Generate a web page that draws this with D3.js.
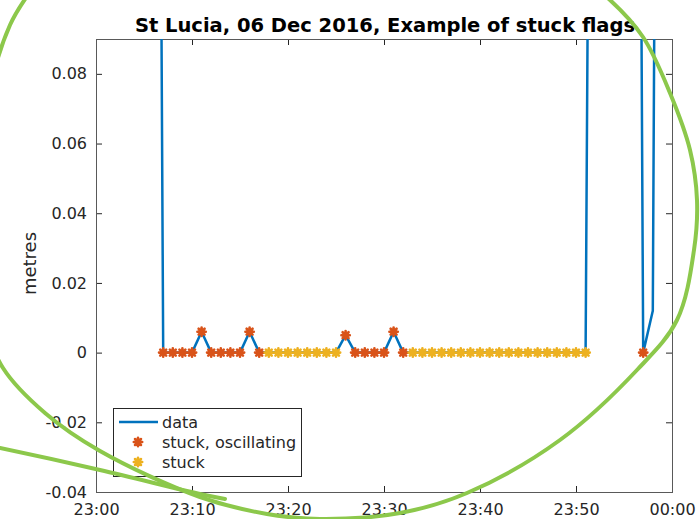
<!DOCTYPE html>
<html>
<head>
<meta charset="utf-8">
<script src="https://cdn.jsdelivr.net/npm/d3@7"></script>
<style>
    body { margin: 0; background: #fff; }
    #chart { width: 700px; height: 519px; }
    text { font-family: "DejaVu Sans", sans-serif; fill: #262626; }
</style>
</head>
<body>
<div id="chart"></div>
<script>

// one reading per minute, 23:00 -> 00:00
const times = ["23:00","23:01","23:02","23:03","23:04","23:05","23:06","23:07","23:08","23:09",
    "23:10","23:11","23:12","23:13","23:14","23:15","23:16","23:17","23:18","23:19",
    "23:20","23:21","23:22","23:23","23:24","23:25","23:26","23:27","23:28","23:29",
    "23:30","23:31","23:32","23:33","23:34","23:35","23:36","23:37","23:38","23:39",
    "23:40","23:41","23:42","23:43","23:44","23:45","23:46","23:47","23:48","23:49",
    "23:50","23:51","23:52","23:53","23:54","23:55","23:56","23:57","23:58","23:59","00:00"];

// metres
const levels = [0.62, 0.60, 0.58, 0.56, 0.55, 0.53, 0.52, 0, 0, 0,
    0, 0.006, 0, 0, 0, 0, 0.006, 0, 0, 0,
    0, 0, 0, 0, 0, 0, 0.005, 0, 0, 0,
    0, 0.006, 0, 0, 0, 0, 0, 0, 0, 0,
    0, 0, 0, 0, 0, 0, 0, 0, 0, 0,
    0, 0, 0.45, 0.47, 0.49, 0.50, 0.52, 0, 0.012, 0.55, 0.56];

// "o" = stuck, oscillating   "s" = stuck
const flags = ["","","","","","","","o","o","o",
    "o","o","o","o","o","o","o","o","s","s",
    "s","s","s","s","s","s","o","o","o","o",
    "o","o","o","s","s","s","s","s","s","s",
    "s","s","s","s","s","s","s","s","s","s",
    "s","s","","","","","","o","","",""];

const yTicks = [-0.04, -0.02, 0, 0.02, 0.04, 0.06, 0.08];
const xTickLabels = ["23:00","23:10","23:20","23:30","23:40","23:50","00:00"];
const legendLabels = ["data", "stuck, oscillating", "stuck"];
const chartTitle = "St Lucia, 06 Dec 2016, Example of stuck flags";

class StuckChart {

    constructor(parentElement, times, levels, flags) {
        this.parentElement = parentElement;
        this.times = times;
        this.levels = levels;
        this.flags = flags;
        this.initVis();
    }

    initVis() {
        let vis = this;
        vis.margin = {top: 39, right: 28, bottom: 27, left: 96};
        vis.width = 700 - vis.margin.left - vis.margin.right;
        vis.height = 519 - vis.margin.top - vis.margin.bottom;

        vis.colors = {data: "#0072BD", o: "#D95319", s: "#EDB120"};

        vis.svg = d3.select("#" + vis.parentElement).append("svg")
            .attr("width", 700)
            .attr("height", 519);

        vis.g = vis.svg.append("g")
            .attr("transform", `translate(${vis.margin.left}, ${vis.margin.top})`);

        vis.parseTime = function (s) {
            let day = s < "12:00" ? "2016-12-07" : "2016-12-06";
            return d3.timeParse("%Y-%m-%d %H:%M")(day + " " + s);
        };

        vis.x = d3.scaleTime()
            .domain([vis.parseTime("23:00"), vis.parseTime("00:00")])
            .range([0, vis.width]);
        vis.y = d3.scaleLinear()
            .domain([-0.04, 0.09])
            .range([vis.height, 0]);

        vis.data = vis.times.map((t, i) => ({t: vis.parseTime(t), v: vis.levels[i], f: vis.flags[i]}));

        vis.drawAxes();
        vis.drawData();
        vis.drawLegend();
        vis.drawNotes();
    }

    drawAxes() {
        let vis = this;
        let xTickVals = xTickLabels.map(vis.parseTime);

        let styleAxis = function (sel) {
            sel.select(".domain").remove();
            sel.selectAll(".tick line").attr("stroke", "#262626");
            sel.selectAll("text").style("font-size", "16px").attr("fill", "#262626");
        };

        vis.g.append("g")
            .attr("transform", `translate(0, ${vis.height})`)
            .call(d3.axisBottom(vis.x).tickValues(xTickVals).tickFormat(d3.timeFormat("%H:%M"))
                .tickSizeInner(-6).tickSizeOuter(0).tickPadding(12))
            .call(styleAxis);
        vis.g.append("g")
            .call(d3.axisTop(vis.x).tickValues(xTickVals).tickFormat("")
                .tickSizeInner(-6).tickSizeOuter(0))
            .call(styleAxis);
        vis.g.append("g")
            .call(d3.axisLeft(vis.y).tickValues(yTicks).tickFormat(d => d === 0 ? "0" : d3.format(".2f")(d).replace("−", "-"))
                .tickSizeInner(-6).tickSizeOuter(0).tickPadding(9))
            .call(styleAxis);
        vis.g.append("g")
            .attr("transform", `translate(${vis.width}, 0)`)
            .call(d3.axisRight(vis.y).tickValues(yTicks).tickFormat("")
                .tickSizeInner(-6).tickSizeOuter(0))
            .call(styleAxis);

        vis.g.append("rect")
            .attr("x", 0.5).attr("y", 0.5)
            .attr("width", vis.width).attr("height", vis.height)
            .attr("fill", "none")
            .attr("stroke", "#595959");

        vis.svg.append("text")
            .attr("x", vis.margin.left + vis.width / 2 + 1)
            .attr("y", 32)
            .attr("text-anchor", "middle")
            .style("font-size", "19.5px")
            .style("font-weight", "bold")
            .style("fill", "#000")
            .text(chartTitle);

        vis.svg.append("text")
            .attr("transform", `translate(36, ${vis.margin.top + vis.height / 2 - 2}) rotate(-90)`)
            .attr("text-anchor", "middle")
            .style("font-size", "18px")
            .text("metres");
    }

    drawData() {
        let vis = this;

        vis.svg.append("clipPath").attr("id", "plotClip")
            .append("rect").attr("width", vis.width).attr("height", vis.height);

        let line = d3.line()
            .x(d => vis.x(d.t))
            .y(d => vis.y(d.v));

        vis.g.append("path")
            .datum(vis.data)
            .attr("clip-path", "url(#plotClip)")
            .attr("d", line)
            .attr("fill", "none")
            .attr("stroke", vis.colors.data)
            .attr("stroke-width", 2.5)
            .attr("stroke-linejoin", "round");

        // matlab style '*' markers
        vis.g.selectAll(".flag")
            .data(vis.data.filter(d => d.f !== ""))
            .enter()
            .append("path")
            .attr("class", "flag")
            .attr("transform", d => `translate(${vis.x(d.t)}, ${vis.y(d.v)})`)
            .attr("d", vis.starPath(4.2))
            .attr("fill", "none")
            .attr("stroke", d => vis.colors[d.f])
            .attr("stroke-width", 2.6)
            .attr("stroke-linecap", "round");
    }

    starPath(r) {
        let a = r * Math.SQRT1_2;
        return `M${-r},0L${r},0M0,${-r}L0,${r}M${-a},${-a}L${a},${a}M${-a},${a}L${a},${-a}`;
    }

    drawLegend() {
        let vis = this;
        let lg = vis.svg.append("g").attr("transform", "translate(113, 408)");

        lg.append("rect")
            .attr("x", 0.5).attr("y", 0.5)
            .attr("width", 188).attr("height", 68)
            .attr("fill", "#fff")
            .attr("stroke", "#262626")
            .attr("stroke-width", 1);

        legendLabels.forEach(function (label, i) {
            let cy = 14 + i * 20;
            if (i === 0) {
                lg.append("line")
                    .attr("x1", 6).attr("x2", 45)
                    .attr("y1", cy).attr("y2", cy)
                    .attr("stroke", vis.colors.data)
                    .attr("stroke-width", 2.5);
            } else {
                lg.append("path")
                    .attr("transform", `translate(25, ${cy})`)
                    .attr("d", vis.starPath(4.2))
                    .attr("fill", "none")
                    .attr("stroke", i === 1 ? vis.colors.o : vis.colors.s)
                    .attr("stroke-width", 2.6)
                    .attr("stroke-linecap", "round");
            }
            lg.append("text")
                .attr("x", 49)
                .attr("y", cy + 6)
                .style("font-size", "16px")
                .text(label);
        });
    }

    // hand drawn green rings on top of the figure
    drawNotes() {
        let vis = this;
        let ring = [[30, -8], [10, 25], [-10, 90], [-25, 230], [-12, 330], [3, 368], [45, 413], [100, 451],
            [200, 497], [267, 514], [320, 519], [400, 513], [467, 493], [560, 440], [637, 370],
            [677, 320], [694, 250], [697, 200], [690, 150], [670, 93], [643, 37], [610, 0], [590, -15]];
        let tail = [[-10, 446], [0, 448], [100, 470], [200, 494], [225, 499]];

        let pen = d3.line().curve(d3.curveCatmullRom.alpha(0.5));
        [ring, tail].forEach(function (pts) {
            vis.svg.append("path")
                .attr("d", pen(pts))
                .attr("fill", "none")
                .attr("stroke", "#8cc84b")
                .attr("stroke-width", 4)
                .attr("stroke-linecap", "round");
        });
    }
}

new StuckChart("chart", times, levels, flags);

</script>
</body>
</html>
